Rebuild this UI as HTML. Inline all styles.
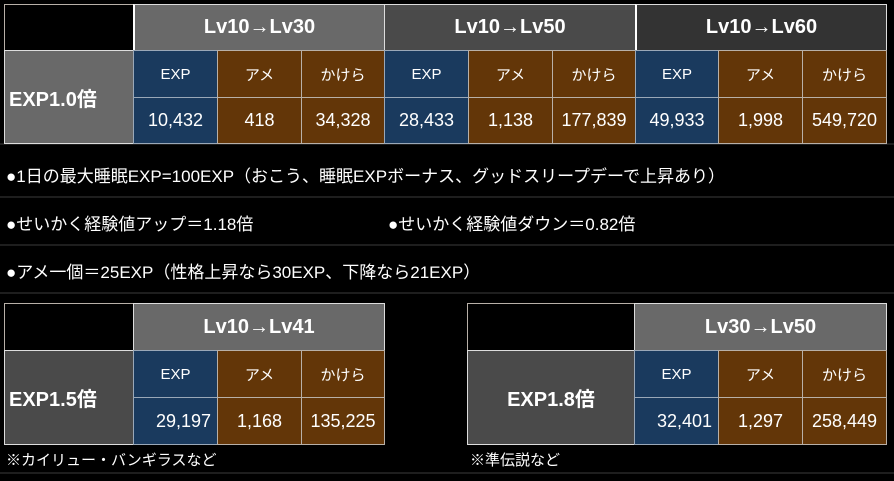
<!DOCTYPE html>
<html><head><meta charset="utf-8"><style>
body{margin:0;width:894px;height:481px;background:#000;overflow:hidden;font-family:"Liberation Sans","Noto Sans CJK JP",sans-serif;color:#fff;position:relative}
.c{position:absolute;box-sizing:border-box;display:flex;align-items:center;justify-content:center;border:1px solid #b8b0a8}
.h{font-weight:bold;font-size:20px;border-color:#ddd}
.b{background:#1a3a5e;border-color:#9aa8b8}
.o{background:#633608}
.l{font-size:15px}
.v{font-size:18px}
.t{position:absolute;font-size:17px;white-space:nowrap}
.n{position:absolute;font-size:15px;white-space:nowrap}
.g{position:absolute;background:#1e1e1e}
</style></head><body>
<div class="g" style="left:0;top:143px;width:894px;height:2px"></div>
<div class="g" style="left:0;top:196px;width:894px;height:2px"></div>
<div class="g" style="left:0;top:244px;width:894px;height:2px"></div>
<div class="g" style="left:0;top:292px;width:894px;height:2px"></div>
<div class="g" style="left:0;top:472px;width:894px;height:2px"></div>

<div class="c" style="left:4px;top:4px;width:130px;height:47px;background:#000"></div>
<div class="c h" style="left:133px;top:4px;width:252px;height:47px;background:#696969;border-left:2px solid #fff">Lv10→Lv30</div>
<div class="c h" style="left:384px;top:4px;width:252px;height:47px;background:#4a4a4a">Lv10→Lv50</div>
<div class="c h" style="left:635px;top:4px;width:252px;height:47px;background:#333;border-left:2px solid #fff">Lv10→Lv60</div>
<div class="c h" style="left:4px;top:50px;width:130px;height:94px;background:#696969;justify-content:flex-start;padding-left:4px">EXP1.0倍</div>

<div class="c l b" style="left:133px;top:50px;width:85px;height:48px">EXP</div>
<div class="c l o" style="left:217px;top:50px;width:85px;height:48px">アメ</div>
<div class="c l o" style="left:301px;top:50px;width:84px;height:48px">かけら</div>
<div class="c l b" style="left:384px;top:50px;width:85px;height:48px">EXP</div>
<div class="c l o" style="left:468px;top:50px;width:85px;height:48px">アメ</div>
<div class="c l o" style="left:552px;top:50px;width:84px;height:48px">かけら</div>
<div class="c l b" style="left:635px;top:50px;width:84px;height:48px">EXP</div>
<div class="c l o" style="left:718px;top:50px;width:85px;height:48px">アメ</div>
<div class="c l o" style="left:802px;top:50px;width:85px;height:48px">かけら</div>

<div class="c v b" style="left:133px;top:97px;width:85px;height:47px">10,432</div>
<div class="c v o" style="left:217px;top:97px;width:85px;height:47px">418</div>
<div class="c v o" style="left:301px;top:97px;width:84px;height:47px">34,328</div>
<div class="c v b" style="left:384px;top:97px;width:85px;height:47px">28,433</div>
<div class="c v o" style="left:468px;top:97px;width:85px;height:47px">1,138</div>
<div class="c v o" style="left:552px;top:97px;width:84px;height:47px">177,839</div>
<div class="c v b" style="left:635px;top:97px;width:84px;height:47px">49,933</div>
<div class="c v o" style="left:718px;top:97px;width:85px;height:47px">1,998</div>
<div class="c v o" style="left:802px;top:97px;width:85px;height:47px">549,720</div>

<div class="t" style="left:6px;top:162px">●1日の最大睡眠EXP=100EXP（おこう、睡眠EXPボーナス、グッドスリープデーで上昇あり）</div>
<div class="t" style="left:6px;top:210px">●せいかく経験値アップ＝1.18倍</div>
<div class="t" style="left:388px;top:210px">●せいかく経験値ダウン＝0.82倍</div>
<div class="t" style="left:6px;top:258px">●アメ一個＝25EXP（性格上昇なら30EXP、下降なら21EXP）</div>

<div class="c" style="left:4px;top:303px;width:130px;height:48px;background:#000"></div>
<div class="c h" style="left:133px;top:303px;width:252px;height:48px;background:#696969">Lv10→Lv41</div>
<div class="c h" style="left:4px;top:350px;width:130px;height:95px;background:#4a4a4a;justify-content:flex-start;padding-left:4px">EXP1.5倍</div>
<div class="c l b" style="left:133px;top:350px;width:85px;height:48px">EXP</div>
<div class="c l o" style="left:217px;top:350px;width:85px;height:48px">アメ</div>
<div class="c l o" style="left:301px;top:350px;width:84px;height:48px">かけら</div>
<div class="c v b" style="left:133px;top:397px;width:85px;height:48px;justify-content:flex-end;padding-right:6px">29,197</div>
<div class="c v o" style="left:217px;top:397px;width:85px;height:48px">1,168</div>
<div class="c v o" style="left:301px;top:397px;width:84px;height:48px">135,225</div>
<div class="n" style="left:6px;top:449px">※カイリュー・バンギラスなど</div>

<div class="c" style="left:467px;top:303px;width:168px;height:48px;background:#000"></div>
<div class="c h" style="left:634px;top:303px;width:253px;height:48px;background:#696969">Lv30→Lv50</div>
<div class="c h" style="left:467px;top:350px;width:168px;height:95px;background:#4a4a4a">EXP1.8倍</div>
<div class="c l b" style="left:634px;top:350px;width:85px;height:48px">EXP</div>
<div class="c l o" style="left:718px;top:350px;width:85px;height:48px">アメ</div>
<div class="c l o" style="left:802px;top:350px;width:85px;height:48px">かけら</div>
<div class="c v b" style="left:634px;top:397px;width:85px;height:48px;justify-content:flex-end;padding-right:6px">32,401</div>
<div class="c v o" style="left:718px;top:397px;width:85px;height:48px">1,297</div>
<div class="c v o" style="left:802px;top:397px;width:85px;height:48px">258,449</div>
<div class="n" style="left:470px;top:449px">※準伝説など</div>
</body></html>
